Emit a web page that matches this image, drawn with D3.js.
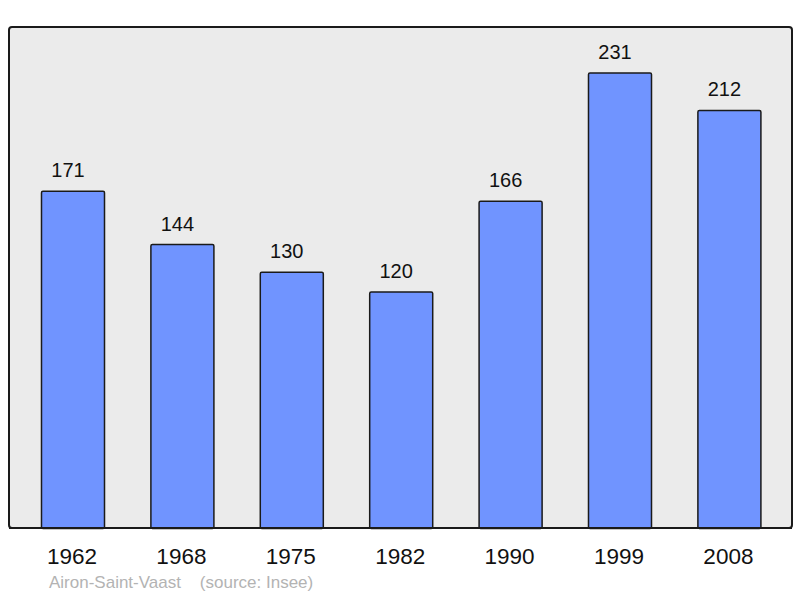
<!doctype html>
<html lang="en">
<head>
<meta charset="UTF-8">
<title>Airon-Saint-Vaast</title>
<script src="https://d3js.org/d3.v7.min.js"></script>
<style>
  body { margin: 0; background: #fff; }
  text { font-family: "Liberation Sans", Arial, sans-serif; }
</style>
</head>
<body>
<div id="chart"></div>
<script>
  const years = ['1962', '1968', '1975', '1982', '1990', '1999', '2008'];
  const population = [171, 144, 130, 120, 166, 231, 212];
  const sourceLabel = 'Airon-Saint-Vaast    (source: Insee)';

  const width = 800, height = 598;

  const svg = d3.select('#chart')
    .append('svg')
    .attr('width', width)
    .attr('height', height);

  // panel
  svg.append('rect')
    .attr('x', 9)
    .attr('y', 27)
    .attr('width', 783)
    .attr('height', 501)
    .attr('rx', 3)
    .attr('fill', '#ebebeb')
    .attr('stroke', '#1a1a1a')
    .attr('stroke-width', 2);

  const xScale = d3.scaleBand()
    .domain(years)
    .range([18.3, 784.1])
    .paddingInner(0.424)
    .paddingOuter(0.212);

  const yScale = d3.scaleLinear()
    .domain([0, 231])
    .range([528.5, 73]);

  const data = years.map((y, i) => ({ year: y, value: population[i] }));

  svg.selectAll('.bar')
    .data(data)
    .join('rect')
    .attr('class', 'bar')
    .attr('x', d => xScale(d.year))
    .attr('y', d => yScale(d.value))
    .attr('width', xScale.bandwidth())
    .attr('height', d => yScale(0) - yScale(d.value))
    .attr('rx', 1.5)
    .attr('fill', '#7094ff')
    .attr('stroke', '#1a1a1a')
    .attr('stroke-width', 1.5);

  // redraw bottom edge over bars
  svg.append('line')
    .attr('x1', 9).attr('x2', 792)
    .attr('y1', 528).attr('y2', 528)
    .attr('stroke', '#1a1a1a')
    .attr('stroke-width', 2);

  // value labels sit a little left of the bar centre in the original
  svg.selectAll('.val')
    .data(data)
    .join('text')
    .attr('class', 'val')
    .attr('x', d => xScale(d.year) + xScale.bandwidth() / 2 - 5)
    .attr('y', d => yScale(d.value) - 14)
    .attr('text-anchor', 'middle')
    .attr('font-size', 20)
    .attr('fill', '#111')
    .text(d => d.value);

  const xAxis = d3.axisBottom(xScale).tickSize(0).tickPadding(0);
  const gx = svg.append('g')
    .attr('transform', 'translate(-1, 564)')
    .call(xAxis);
  gx.select('.domain').remove();
  gx.selectAll('text')
    .attr('font-size', 22.5)
    .attr('font-family', '"Liberation Sans", Arial, sans-serif')
    .attr('fill', '#111')
    .attr('y', 0)
    .attr('dy', 0);

  svg.append('text')
    .attr('x', 49)
    .attr('y', 588)
    .attr('font-size', 17)
    .attr('fill', '#b3b3b3')
    .attr('xml:space', 'preserve')
    .style('white-space', 'pre')
    .text(sourceLabel);
</script>
</body>
</html>
